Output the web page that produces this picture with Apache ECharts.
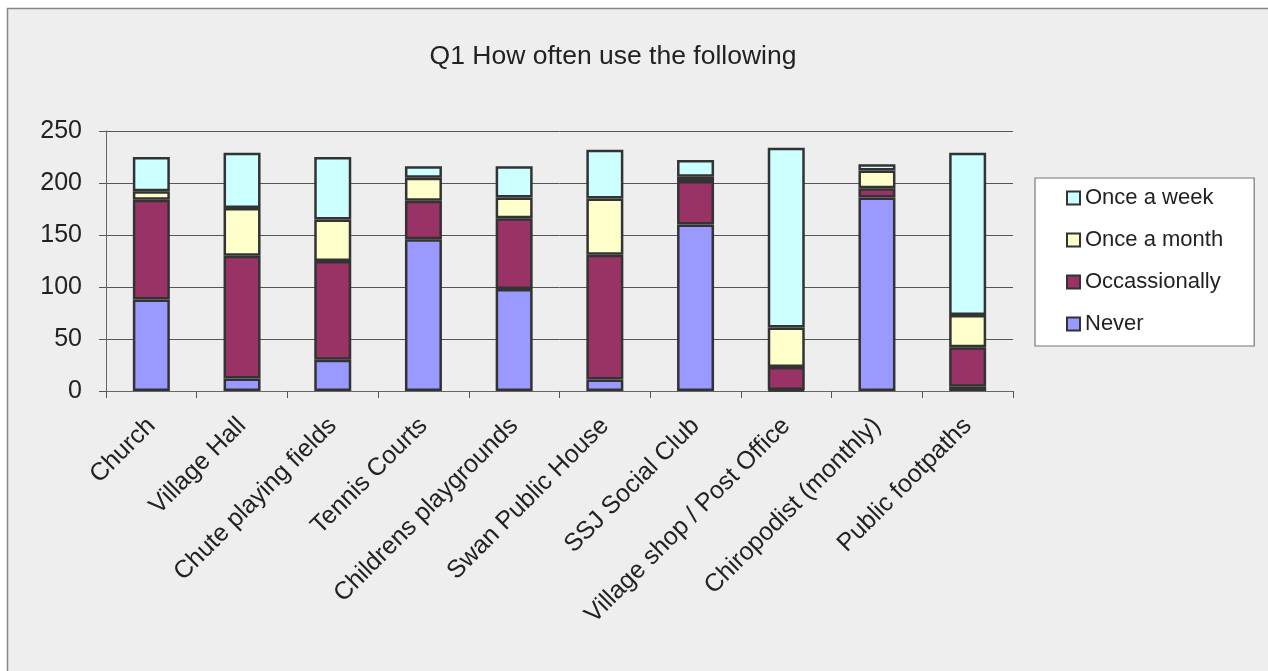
<!DOCTYPE html>
<html>
<head>
<meta charset="utf-8">
<script src="https://cdn.jsdelivr.net/npm/echarts@6/dist/echarts.min.js"></script>
<style>
html,body{margin:0;padding:0;background:#fff;}
#c{width:1268px;height:671px;}
</style>
</head>
<body>
<div id="c"></div>
<script>
const categories = ["Church","Village Hall","Chute playing fields","Tennis Courts","Childrens playgrounds","Swan Public House","SSJ Social Club","Village shop / Post Office","Chiropodist (monthly)","Public footpaths"];
const never       = [88, 12, 30, 146, 98, 11, 160, 1, 186, 4];
const occasionally= [96, 118, 95, 37, 68, 120, 42, 22, 9, 38];
const onceMonth   = [8, 46, 40, 22, 20, 54, 4, 38, 17, 31];
const onceWeek    = [33, 53, 60, 11, 30, 47, 16, 173, 6, 156];
const yTicks = [0, 50, 100, 150, 200, 250];

const font = "'Liberation Sans', Arial, sans-serif";
const edge = '#333333';
function s(name, data, color){
  return {name, type:'bar', stack:'t', data, barWidth:37,
    itemStyle:{color, borderColor:edge, borderWidth:2.5}};
}
const chart = echarts.init(document.getElementById('c'), null, {renderer:'canvas'});
chart.setOption({
  animation:false,
  backgroundColor:'#ffffff',
  graphic:[{type:'rect', z:-10, shape:{x:7.5,y:8.5,width:1300,height:700},
    style:{fill:'#eeeeee', stroke:'#888888', lineWidth:1.5}}],
  title:{text:'Q1 How often use the following', left:608, top:38, textAlign:'center',
    textStyle:{fontFamily:font, fontSize:26.5, fontWeight:'normal', color:'#222'}},
  legend:{
    data:['Once a week','Once a month','Occassionally','Never'],
    orient:'vertical', left:1035, top:178,
    backgroundColor:'#ffffff', borderColor:'#777', borderWidth:1.2,
    padding:[8,31,10,31], itemGap:18, itemWidth:13, itemHeight:13,
    icon:'rect',
    itemStyle:{borderColor:edge, borderWidth:2},
    textStyle:{fontFamily:font, fontSize:22, lineHeight:24, color:'#222'}
  },
  grid:{left:106, right:255, top:131, bottom:280, containLabel:false},
  xAxis:{type:'category', data:categories,
    axisLine:{lineStyle:{color:'#666', width:1}},
    axisTick:{show:true, length:7, inside:false, alignWithLabel:false, lineStyle:{color:'#555'}},
    axisLabel:{rotate:45, interval:0, fontFamily:font, fontSize:25, color:'#222', margin:31}
  },
  yAxis:{type:'value', min:0, max:250, interval:50,
    axisLine:{show:true, lineStyle:{color:'#666'}},
    axisTick:{show:true, length:7, lineStyle:{color:'#555'}},
    splitLine:{lineStyle:{color:'#555', width:1}},
    axisLabel:{fontFamily:font, fontSize:25, color:'#222', margin:24,
      formatter:v=> yTicks.includes(v) ? String(v) : ''}
  },
  series:[
    s('Never', never, '#9999ff'),
    s('Occassionally', occasionally, '#993366'),
    s('Once a month', onceMonth, '#ffffcc'),
    s('Once a week', onceWeek, '#ccffff')
  ]
});
</script>
</body>
</html>
